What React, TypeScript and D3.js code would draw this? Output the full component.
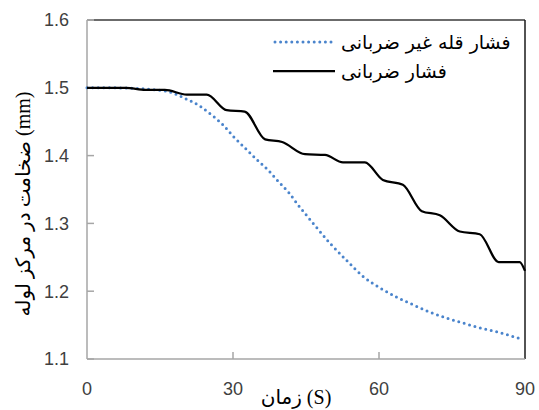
import React from "react";
import * as d3 from "d3";

const xTicks = [0, 30, 60, 90];
const yTicks = [1.1, 1.2, 1.3, 1.4, 1.5, 1.6];

// فشار قله غیر ضربانی (dotted blue)
const nonPulseTime = [0, 5, 10, 14, 17, 20.1, 23.2, 25.6, 28, 30.1, 32.5, 34.9, 37.3, 39.3, 41.4, 43.4, 45.1, 46.6, 49.9, 53.4, 56.7, 60.2, 63.7, 67, 70.5, 74, 77.3, 80.7, 84.2, 89];
const nonPulseValue = [1.5, 1.5, 1.499, 1.497, 1.494, 1.4845, 1.473, 1.46, 1.445, 1.428, 1.411, 1.394, 1.378, 1.362, 1.346, 1.327, 1.312, 1.299, 1.271, 1.245, 1.222, 1.205, 1.191, 1.18, 1.169, 1.16, 1.153, 1.146, 1.14, 1.13];

// فشار ضربانی (solid black)
const pulseTime = [0, 4, 8, 12, 16, 20.5, 24.6, 28.7, 32.4, 36.6, 40.1, 44.8, 48.9, 52.6, 57.1, 60.8, 64.9, 68.8, 72.5, 76.6, 80.7, 84.6, 88.9, 90];
const pulseValue = [1.5, 1.5, 1.5, 1.497, 1.497, 1.49, 1.49, 1.467, 1.465, 1.424, 1.42, 1.402, 1.401, 1.39, 1.39, 1.364, 1.357, 1.318, 1.312, 1.288, 1.284, 1.243, 1.243, 1.23];

const legendLabels = ["فشار قله غیر ضربانی", "فشار ضربانی"];
const xTitle = "زمان (S)";
const yTitle = "ضخامت در مرکز لوله (mm)";

export default function App() {
  const W = 539, H = 410;
  const left = 87, right = 525, top = 20, bottom = 359;
  const x = d3.scaleLinear().domain([0, 90]).range([left, right]);
  const y = d3.scaleLinear().domain([1.1, 1.6]).range([bottom, top]);

  const line = d3
    .line<[number, number]>()
    .x((d) => x(d[0]))
    .y((d) => y(d[1]))
    .curve(d3.curveMonotoneX);

  const blueData = nonPulseTime.map((t, i) => [t, nonPulseValue[i]] as [number, number]);
  const blackData = pulseTime.map((t, i) => [t, pulseValue[i]] as [number, number]);

  const tickFont = "'Liberation Sans', Arial, sans-serif";
  const titleFont = "'Liberation Serif', 'DejaVu Sans', serif";
  const arFont = "'DejaVu Sans', 'Liberation Sans', sans-serif";

  return (
    <svg
      width={W}
      height={H}
      style={{ position: "absolute", left: 0, top: 0, background: "#fff" }}
    >
      {/* plot frame (top & right dark) */}
      <line x1={left} x2={right} y1={top} y2={top} stroke="#3a3a3a" strokeWidth={1.5} />
      <line x1={right} x2={right} y1={top} y2={bottom} stroke="#1a1a1a" strokeWidth={1.5} />
      <line x1={left} x2={left + 7} y1={top} y2={top} stroke="#a6a6a6" strokeWidth={1.5} />

      {/* axes */}
      <line x1={left} x2={left} y1={top} y2={bottom} stroke="#a6a6a6" strokeWidth={1.5} />
      <line x1={left} x2={right} y1={bottom} y2={bottom} stroke="#a6a6a6" strokeWidth={1.5} />

      {yTicks.map((t) => (
        <g key={"y" + t}>
          <line x1={left} x2={left + 7} y1={y(t)} y2={y(t)} stroke="#a6a6a6" strokeWidth={1.5} />
          <text
            x={69}
            y={y(t)}
            dy="0.35em"
            textAnchor="end"
            fontFamily={tickFont}
            fontSize={18}
            fill="#404040"
          >
            {t.toFixed(1)}
          </text>
        </g>
      ))}

      {xTicks.map((t) => (
        <g key={"x" + t}>
          {t > 0 && t < 90 && (
            <line x1={x(t)} x2={x(t)} y1={bottom} y2={bottom - 7} stroke="#a6a6a6" strokeWidth={1.5} />
          )}
          <text
            x={x(t)}
            y={395}
            textAnchor="middle"
            fontFamily={tickFont}
            fontSize={18}
            fill="#404040"
          >
            {t}
          </text>
        </g>
      ))}

      {/* series */}
      <path
        d={line(blueData) || ""}
        fill="none"
        stroke="#4a84cc"
        strokeWidth={3}
        strokeLinecap="round"
        strokeDasharray="0 5.6"
      />
      <path d={line(blackData) || ""} fill="none" stroke="#000" strokeWidth={2.25} />

      {/* legend */}
      <line x1={275} x2={335} y1={42} y2={42} stroke="#4a84cc" strokeWidth={3} strokeLinecap="round" strokeDasharray="0 5.6" />
      <text x={341} y={42} dy="0.35em" textAnchor="start" fontFamily={arFont} fontSize={19} fill="#000">
        {legendLabels[0]}
      </text>
      <line x1={273} x2={335} y1={71} y2={71} stroke="#000" strokeWidth={2.25} />
      <text x={341} y={71} dy="0.35em" textAnchor="start" fontFamily={arFont} fontSize={19} fill="#000">
        {legendLabels[1]}
      </text>

      {/* axis titles */}
      <text
        x={296}
        y={397}
        dy="0.35em"
        textAnchor="middle"
        fontFamily={titleFont}
        fontSize={20}
        fill="#000"
      >
        {xTitle}
      </text>
      <text
        transform={`translate(23,${204}) rotate(-90)`}
        dy="0.35em"
        textAnchor="middle"
        fontFamily={titleFont}
        fontSize={20}
        fill="#000"
      >
        {yTitle}
      </text>
    </svg>
  );
}
